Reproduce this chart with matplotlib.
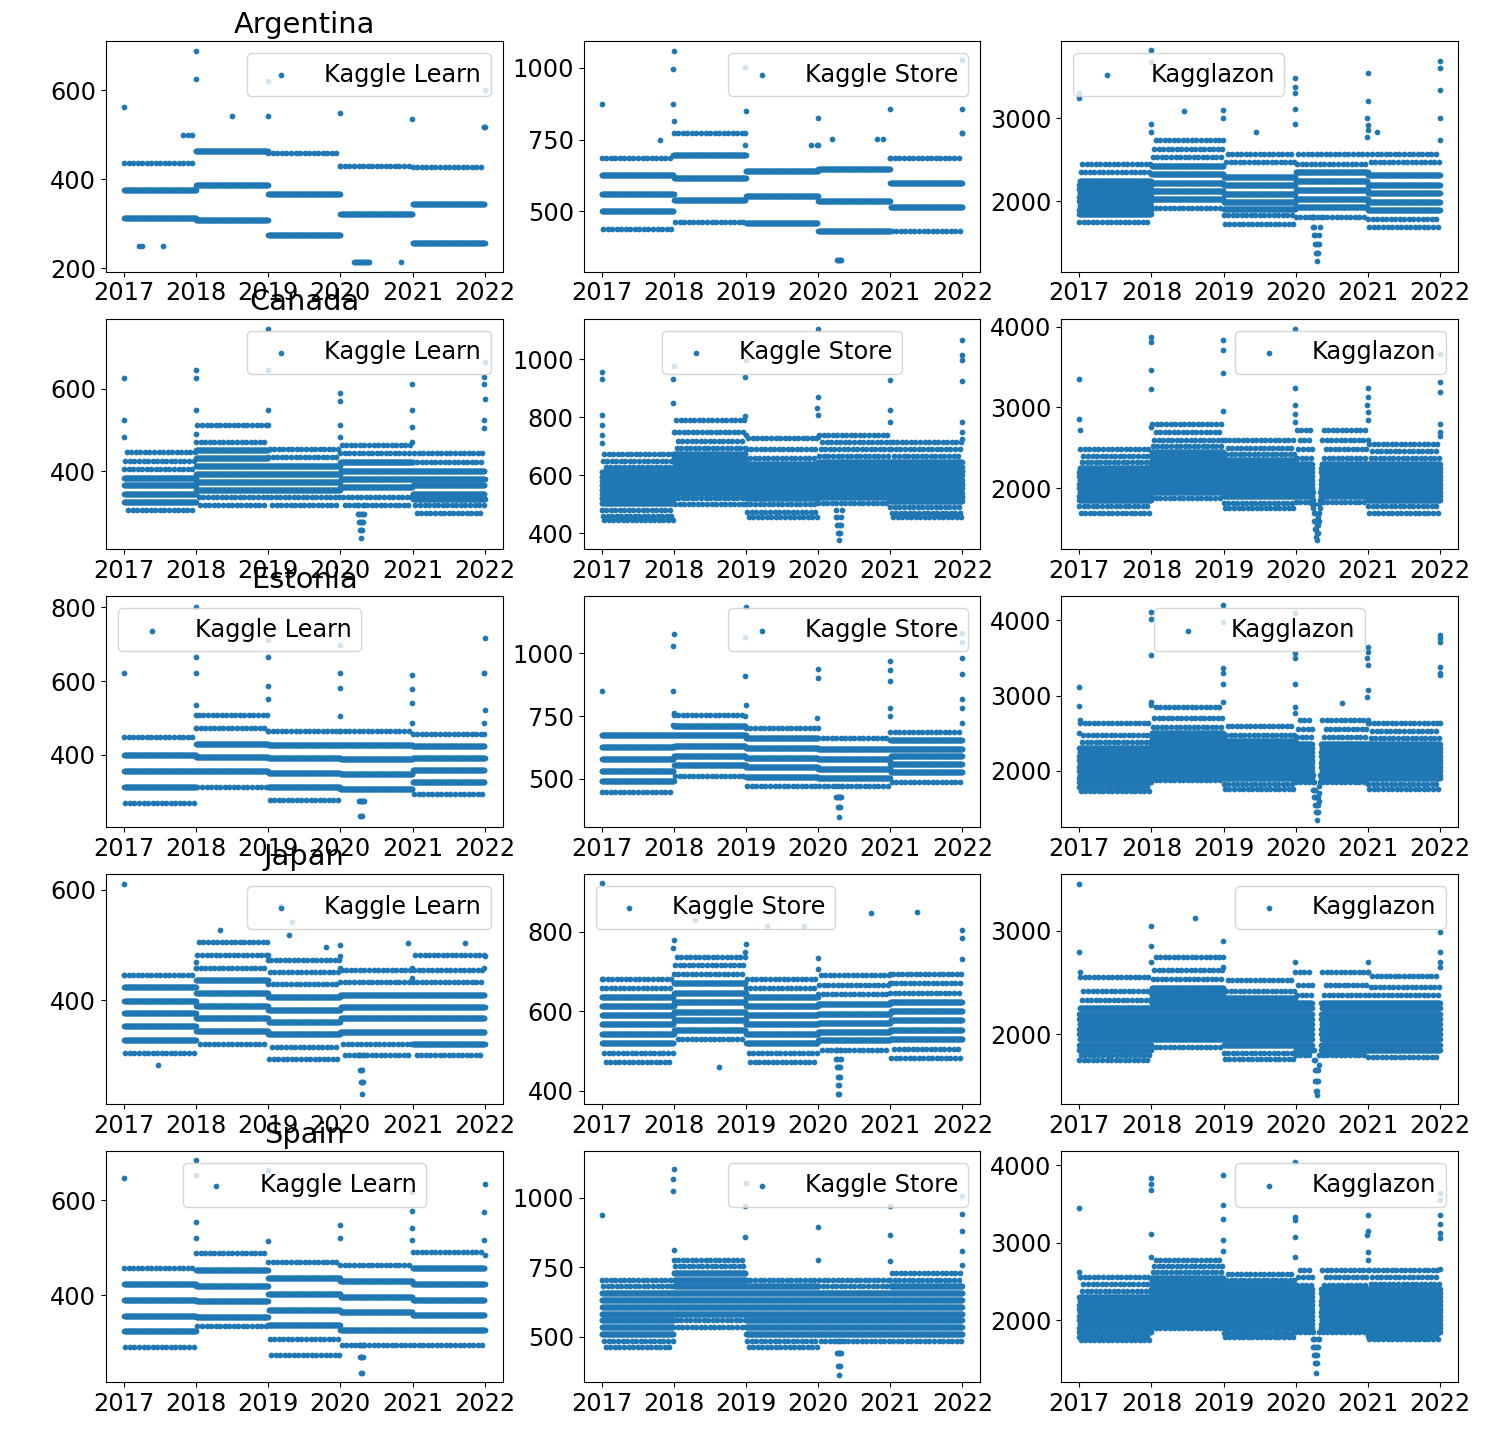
import matplotlib
matplotlib.use("Agg")
import matplotlib.pyplot as plt
import matplotlib.dates as mdates
import pandas as pd

COUNTRIES = ["Argentina", "Canada", "Estonia", "Japan", "Spain"]
STORES = ["Kaggle Learn", "Kaggle Store", "Kagglazon"]
YEARS = [2017, 2018, 2019, 2020, 2021]

# ---- Argentina ----
AR_LEARN_DENSE = [[375, 312], [463, 388, 309], [367, 276], [323], [344, 258]]
AR_LEARN_SPARSE = [[437], [], [458], [430], [428]]
AR_LEARN_SPIKES = [[562], [688, 625, 463], [541, 620, 460], [548, 430], [536], [600, 516, 516, 516]]
AR_LEARN_DIP = [[215], [215], [215], [215], [215], [215], [215], [215], [215], [215], [215], [215], [215], [215], [215], [215]]
AR_LEARN_EXTRA = [("2017-03-20", 250), ("2017-04-02", 250), ("2017-07-15", 250), ("2017-10-28", 500),
                  ("2017-11-20", 500), ("2017-12-10", 500), ("2018-07-01", 541), ("2020-11-01", 215)]

AR_STORE_DENSE = [[626, 562, 500], [695, 617, 540], [641, 552, 459], [649, 536, 430], [600, 515]]
AR_STORE_SPARSE = [[686, 438], [772, 463], [], [], [686, 430]]
AR_STORE_SPIKES = [[874], [1059, 995, 874, 815, 695], [850, 772, 731, 695, 1004], [824, 731, 731], [857, 686], [1028, 857, 772, 772]]
AR_STORE_DIP = [[329], [329], [329], [329], [329]]
AR_STORE_EXTRA = [("2017-10-25", 748), ("2019-11-25", 731), ("2020-03-10", 751), ("2020-10-25", 751), ("2020-11-25", 751)]

AR_KAGGLAZON_DENSE = [[1850, 1900, 1950, 2000, 2050, 2100, 2150, 2200, 2250],
                      [2024, 2124, 2221, 2325, 2425],
                      [1912, 1992, 2093, 2193, 2293],
                      [1932, 2032, 2133, 2245, 2353],
                      [1892, 1992, 2100, 2201, 2313]]
AR_KAGGLAZON_SPARSE = [[1750, 2350, 2450], [1924, 2534, 2635, 2735], [1831, 1731, 2473, 2574],
                       [1811, 2454, 2566], [1791, 1690, 2473, 2574]]
AR_KAGGLAZON_SPIKES = [[3237, 3300], [3819, 3678, 2935, 2835], [3096, 3000, 2735], [3478, 3377, 3298, 3108, 2936],
                       [3546, 3208, 3000, 2916, 2855, 2775], [3687, 3599, 3337, 3000, 2735]]
AR_KAGGLAZON_DIP = [[1811], [1811, 1690], [1690, 1602], [1602, 1490], [1490, 1377], [1377, 1281],
                    [1490, 1377], [1602, 1490], [1690], [1811]]
AR_KAGGLAZON_EXTRA = [("2019-06-15", 2835), ("2018-06-15", 3084), ("2021-02-15", 2835)]

# ---- Canada ----
CA_LEARN_DENSE = [[385, 366, 346, 326], [451, 432, 414, 394, 374, 356], [414, 394, 374, 354],
                  [422, 402, 382, 362], [402, 382, 366, 346, 334]]
CA_LEARN_SPARSE = [[406, 426, 447, 306], [471, 511, 338, 318], [434, 455, 338, 318],
                   [444, 464, 338, 318], [422, 444, 318, 300]]
CA_LEARN_SPIKES = [[625, 525, 484], [645, 625, 547, 491], [744, 645, 549, 511], [589, 569, 511, 484],
                   [610, 547, 507, 471], [663, 627, 610, 575, 523, 505]]
CA_LEARN_DIP = [[318, 298], [298, 278], [298, 278, 258], [278, 258, 238], [298, 278, 258], [298, 278], [318, 298]]

CA_STORE_DENSE = [[505, 520, 535, 550, 565, 580, 595, 610],
                  [540, 555, 570, 585, 600, 615, 630, 645, 660, 675],
                  [520, 535, 550, 565, 580, 595, 610, 625, 640],
                  [525, 540, 555, 570, 585, 600, 615, 630, 645],
                  [510, 525, 540, 555, 570, 585, 600, 615, 630, 645]]
CA_STORE_SPARSE = [[480, 460, 445, 630, 650, 675], [520, 500, 695, 720, 750, 790], [500, 475, 456, 660, 690, 730],
                   [505, 665, 690, 715, 740], [490, 470, 455, 665, 690, 715]]
CA_STORE_SPIKES = [[956, 933, 809, 772, 740, 710], [979, 933, 849, 749], [999, 939, 803, 740],
                   [1106, 870, 831, 807, 732], [928, 824, 784, 715], [1066, 1014, 997, 924, 784, 749, 726]]
CA_STORE_DIP = [[479, 455], [455, 430], [430, 400], [400, 376], [430, 400], [455, 430], [479]]

CA_KAGGLAZON_DENSE = [[1850, 1900, 1950, 2000, 2050, 2100, 2150, 2200, 2250],
                      [1950, 2000, 2050, 2100, 2150, 2200, 2250, 2300, 2350, 2400, 2450],
                      [1900, 1950, 2000, 2050, 2100, 2150, 2200, 2250, 2300, 2350],
                      [1900, 1950, 2000, 2050, 2100, 2150, 2200, 2250, 2300],
                      [1850, 1900, 1950, 2000, 2050, 2100, 2150, 2200, 2250, 2300]]
CA_KAGGLAZON_SPARSE = [[1780, 1700, 2320, 2400, 2480], [1880, 2520, 2600, 2700, 2800], [1820, 1750, 2420, 2500, 2600],
                       [1830, 2380, 2480, 2600, 2720], [1780, 1700, 2380, 2460, 2550]]
CA_KAGGLAZON_SPIKES = [[3354, 2860, 2716], [3868, 3806, 3465, 3222, 2757], [3835, 3712, 3424, 2955],
                       [3971, 3238, 3033, 2922, 2819], [3238, 3124, 3025, 2940, 2840], [3662, 3312, 3189, 2798, 2700, 2650]]
CA_KAGGLAZON_DIP = [[2000, 1900, 1800], [1950, 1850, 1750], [1800, 1700, 1600], [1700, 1600, 1500], [1600, 1500, 1400],
                    [1550, 1450, 1358], [1650, 1550, 1450], [1800, 1700, 1600], [1950, 1850, 1750], [2000, 1900, 1850]]

# ---- Estonia ----
EE_LEARN_DENSE = [[400, 357, 312], [430, 393, 355], [427, 391, 351, 312], [427, 389, 348, 308], [424, 391, 358, 326]]
EE_LEARN_SPARSE = [[447, 270], [474, 314, 508], [465, 278], [465], [456, 294]]
EE_LEARN_SPIKES = [[622], [801, 666, 622, 535, 508, 474], [711, 665, 587, 550, 465], [699, 622, 582, 505, 465],
                   [616, 578, 540, 487], [717, 621, 621, 522, 487, 456]]
EE_LEARN_DIP = [[274], [274, 233], [274, 233], [274, 233], [274], [274]]

EE_STORE_DENSE = [[673, 626, 579, 533, 492], [710, 673, 631, 592, 556], [664, 622, 582, 546, 507],
                  [618, 578, 538, 503], [655, 620, 592, 560, 527]]
EE_STORE_SPARSE = [[447], [754, 513], [704, 472], [664, 472], [688, 489]]
EE_STORE_SPIKES = [[849], [1074, 1028, 849, 762, 714], [1184, 1065, 909, 793, 750], [937, 900, 741, 701],
                   [968, 932, 890, 783, 750], [1078, 1045, 981, 917, 816, 783, 722]]
EE_STORE_DIP = [[472, 430], [430], [430, 390], [430, 390, 350], [430, 390], [430], [472]]

EE_KAGGLAZON_DENSE = [[1850, 1900, 1950, 2000, 2050, 2100, 2150, 2200, 2250, 2300],
                      [1950, 2000, 2050, 2100, 2150, 2200, 2250, 2300, 2350, 2400, 2450, 2500],
                      [1900, 1950, 2000, 2050, 2100, 2150, 2200, 2250, 2300, 2350, 2400],
                      [1900, 1950, 2000, 2050, 2100, 2150, 2200, 2250, 2300, 2350],
                      [1900, 1950, 2000, 2050, 2100, 2150, 2200, 2250, 2300, 2350]]
EE_KAGGLAZON_SPARSE = [[1780, 1730, 2380, 2480, 2630], [1880, 2580, 2700, 2850], [1830, 1760, 2480, 2600],
                       [1850, 2450, 2550, 2680], [1830, 1760, 2430, 2530, 2630]]
EE_KAGGLAZON_SPIKES = [[3117, 2861, 2675, 2500], [4110, 4022, 3536, 2918, 2874], [4199, 3977, 3364, 3300, 3148, 2918],
                       [4089, 3563, 3497, 3148, 2852, 2764], [3646, 3580, 3500, 3404, 3073, 2985, 2632],
                       [3801, 3760, 3713, 3381, 3300, 3272, 2632]]
EE_KAGGLAZON_DIP = [[1950, 1850, 1750], [1850, 1750, 1650], [1750, 1650, 1550], [1650, 1550, 1450],
                    [1550, 1450, 1351], [1650, 1550, 1450], [1800, 1700, 1600], [1950, 1850]]
EE_KAGGLAZON_EXTRA = [("2020-08-20", 2897)]

# ---- Japan ----
JP_LEARN_DENSE = [[423, 399, 376, 353, 327], [436, 413, 389, 368, 344], [406, 383, 360, 338],
                  [410, 387, 367, 342], [410, 387, 367, 342, 321]]
JP_LEARN_SPARSE = [[445, 304], [459, 482, 506, 321], [430, 451, 473, 315, 294], [432, 455, 321, 300],
                   [432, 455, 482, 300]]
JP_LEARN_SPIKES = [[611, 445], [470, 459], [482, 473], [500, 480, 459], [459, 440], [480, 459]]
JP_LEARN_DIP = [[300], [300, 273], [273, 251], [273, 251, 229], [251], [300]]
JP_LEARN_EXTRA = [("2017-06-20", 282), ("2019-03-05", 571), ("2019-05-01", 541), ("2019-04-15", 518),
                  ("2018-05-01", 528), ("2019-10-20", 497), ("2020-12-10", 504), ("2021-09-25", 504)]

JP_STORE_DENSE = [[636, 613, 590, 567, 544, 520], [670, 645, 624, 598, 577, 554], [635, 614, 590, 567, 544, 520],
                  [619, 594, 571, 548, 527], [623, 600, 577, 552, 529]]
JP_STORE_SPARSE = [[659, 682, 495, 472], [693, 716, 737, 531], [658, 682, 495, 472], [643, 667, 690, 502],
                   [646, 670, 694, 506, 482]]
JP_STORE_SPIKES = [[921, 682], [779, 758], [770, 749], [733, 707], [694, 670], [805, 783, 732]]
JP_STORE_DIP = [[502, 481], [502, 481, 460], [460, 435, 414, 391], [460, 435, 414, 391], [481, 460, 435], [502, 481]]
JP_STORE_EXTRA = [("2020-09-25", 846), ("2021-05-15", 850), ("2018-08-20", 460), ("2018-04-20", 829),
                  ("2019-04-20", 814), ("2019-10-20", 814)]

JP_KAGGLAZON_DENSE = [[1850, 1900, 1950, 2000, 2050, 2100, 2150, 2200, 2250],
                      [1950, 2000, 2050, 2100, 2150, 2200, 2250, 2300, 2350, 2400, 2450],
                      [1900, 1950, 2000, 2050, 2100, 2150, 2200, 2250, 2300, 2350],
                      [1850, 1900, 1950, 2000, 2050, 2100, 2150, 2200, 2250, 2300],
                      [1850, 1900, 1950, 2000, 2050, 2100, 2150, 2200, 2250, 2300]]
JP_KAGGLAZON_SPARSE = [[1750, 1800, 2330, 2420, 2550], [1880, 2530, 2620, 2750], [1820, 1760, 2420, 2520],
                       [1800, 2380, 2480, 2600], [1780, 2380, 2460, 2560]]
JP_KAGGLAZON_SPIKES = [[3456, 2800, 2600], [3050, 2850, 2700], [2900, 2750, 2650], [2700, 2600], [2700, 2600],
                       [2990, 2800, 2700, 2650]]
JP_KAGGLAZON_DIP = [[1850, 1750], [1750, 1650, 1550], [1650, 1550, 1450], [1550, 1450, 1408], [1650, 1550], [1800, 1700]]
JP_KAGGLAZON_EXTRA = [("2018-08-10", 3126)]

# ---- Spain ----
ES_LEARN_DENSE = [[423, 390, 356, 324], [453, 419, 387, 354], [436, 402, 368, 337], [430, 396, 364, 326],
                  [457, 423, 390, 358, 326]]
ES_LEARN_SPARSE = [[457, 290], [488, 335], [470, 307, 274], [463, 295], [490, 295]]
ES_LEARN_SPIKES = [[648], [684, 653, 554, 520], [663, 514], [638, 547, 520], [617, 577, 541, 516], [634, 575, 516, 484]]
ES_LEARN_DIP = [[295], [295, 270], [270, 236], [270, 236], [295, 270], [295]]

ES_STORE_DENSE = [[656, 632, 608, 583, 559, 535, 510],
                  [729, 705, 681, 656, 632, 608, 583],
                  [681, 656, 632, 608, 583, 559, 535, 510],
                  [656, 632, 608, 583, 559, 535, 510],
                  [681, 656, 632, 608, 583, 559, 535, 510]]
ES_STORE_SPARSE = [[705, 681, 486, 462], [778, 753, 559, 535], [705, 486, 462], [681, 705, 486], [705, 729, 486]]
ES_STORE_SPIKES = [[937], [1104, 1066, 1024, 812], [1055, 969, 858], [896, 778], [969, 865, 774],
                   [1007, 941, 882, 809, 760]]
ES_STORE_DIP = [[483, 441], [441, 396], [441, 396, 361], [441, 396], [483, 441]]

ES_KAGGLAZON_DENSE = [[1850, 1900, 1950, 2000, 2050, 2100, 2150, 2200, 2250, 2300],
                      [1950, 2000, 2050, 2100, 2150, 2200, 2250, 2300, 2350, 2400, 2450, 2500, 2550],
                      [1900, 1950, 2000, 2050, 2100, 2150, 2200, 2250, 2300, 2350, 2400, 2450],
                      [1900, 1950, 2000, 2050, 2100, 2150, 2200, 2250, 2300, 2350, 2400],
                      [1850, 1900, 1950, 2000, 2050, 2100, 2150, 2200, 2250, 2300, 2350, 2400]]
ES_KAGGLAZON_SPARSE = [[1780, 1740, 2380, 2470, 2560], [1900, 2620, 2700, 2780], [1830, 1780, 2520, 2600],
                       [1850, 2460, 2560, 2650], [1790, 1750, 2470, 2560, 2650]]
ES_KAGGLAZON_SPIKES = [[3454, 2623, 2559], [3832, 3760, 3677, 3118, 2817], [3871, 3484, 3303, 3032, 2890],
                       [4043, 3329, 3290, 3075, 2817], [3355, 3152, 3105, 2881, 2774],
                       [3638, 3548, 3364, 3239, 3127, 3067, 2667]]
ES_KAGGLAZON_DIP = [[1850, 1750, 1650], [1750, 1650, 1550], [1650, 1550, 1450], [1550, 1450, 1312],
                    [1650, 1550, 1450], [1750, 1650], [1850, 1750]]

PANELS = [
    [(AR_LEARN_DENSE, AR_LEARN_SPARSE, AR_LEARN_SPIKES, AR_LEARN_DIP, AR_LEARN_EXTRA),
     (AR_STORE_DENSE, AR_STORE_SPARSE, AR_STORE_SPIKES, AR_STORE_DIP, AR_STORE_EXTRA),
     (AR_KAGGLAZON_DENSE, AR_KAGGLAZON_SPARSE, AR_KAGGLAZON_SPIKES, AR_KAGGLAZON_DIP, AR_KAGGLAZON_EXTRA)],
    [(CA_LEARN_DENSE, CA_LEARN_SPARSE, CA_LEARN_SPIKES, CA_LEARN_DIP, []),
     (CA_STORE_DENSE, CA_STORE_SPARSE, CA_STORE_SPIKES, CA_STORE_DIP, []),
     (CA_KAGGLAZON_DENSE, CA_KAGGLAZON_SPARSE, CA_KAGGLAZON_SPIKES, CA_KAGGLAZON_DIP, [])],
    [(EE_LEARN_DENSE, EE_LEARN_SPARSE, EE_LEARN_SPIKES, EE_LEARN_DIP, []),
     (EE_STORE_DENSE, EE_STORE_SPARSE, EE_STORE_SPIKES, EE_STORE_DIP, []),
     (EE_KAGGLAZON_DENSE, EE_KAGGLAZON_SPARSE, EE_KAGGLAZON_SPIKES, EE_KAGGLAZON_DIP, EE_KAGGLAZON_EXTRA)],
    [(JP_LEARN_DENSE, JP_LEARN_SPARSE, JP_LEARN_SPIKES, JP_LEARN_DIP, JP_LEARN_EXTRA),
     (JP_STORE_DENSE, JP_STORE_SPARSE, JP_STORE_SPIKES, JP_STORE_DIP, JP_STORE_EXTRA),
     (JP_KAGGLAZON_DENSE, JP_KAGGLAZON_SPARSE, JP_KAGGLAZON_SPIKES, JP_KAGGLAZON_DIP, JP_KAGGLAZON_EXTRA)],
    [(ES_LEARN_DENSE, ES_LEARN_SPARSE, ES_LEARN_SPIKES, ES_LEARN_DIP, []),
     (ES_STORE_DENSE, ES_STORE_SPARSE, ES_STORE_SPIKES, ES_STORE_DIP, []),
     (ES_KAGGLAZON_DENSE, ES_KAGGLAZON_SPARSE, ES_KAGGLAZON_SPIKES, ES_KAGGLAZON_DIP, [])],
]

LEGEND_LOC = [["upper right", "upper right", "upper left"],
              ["upper right", "upper center", "upper right"],
              ["upper left", "upper right", "upper center"],
              ["upper right", "upper left", "upper right"],
              ["upper center", "upper right", "upper right"]]

YLIMS = [[(193, 710), (290, 1094), (1157, 3928)],
         [(212, 769), (345, 1141), (1247, 4099)],
         [(205, 830), (310, 1226), (1258, 4318)],
         [(211, 629), (366, 945), (1320, 3553)],
         [(217, 703), (337, 1167), (1200, 4181)]]

YTICKS = [[[200, 400, 600], [500, 750, 1000], [2000, 3000]],
          [[400, 600], [400, 600, 800, 1000], [2000, 3000, 4000]],
          [[400, 600, 800], [500, 750, 1000], [2000, 3000, 4000]],
          [[400, 600], [400, 600, 800], [2000, 3000]],
          [[400, 600], [500, 750, 1000], [2000, 3000, 4000]]]

DIP_CENTER = pd.Timestamp("2020-04-15")


def build_points(dense, sparse, spikes, dip, extra, gap):
    xs, ys = [], []
    for yi, year in enumerate(YEARS):
        days = pd.date_range(f"{year}-01-01", f"{year}-12-31", freq="D")
        if gap and year == 2020:
            days = days[(days < "2020-03-25") | (days > "2020-05-08")]
        for bi, v in enumerate(dense[yi]):
            d = days[bi % 3::3]
            xs.extend(d)
            ys.extend([v] * len(d))
        for bi, v in enumerate(sparse[yi]):
            d = days[(bi * 7) % 23::23]
            xs.extend(d)
            ys.extend([v] * len(d))
    for k, vals in enumerate(spikes):
        for i, v in enumerate(vals):
            if k == 0:
                xs.append(pd.Timestamp("2017-01-01") + pd.Timedelta(days=i % 3))
            else:
                xs.append(pd.Timestamp(f"{2016 + k}-12-31") - pd.Timedelta(days=i % 3))
            ys.append(v)
    n = len(dip)
    for i, vals in enumerate(dip):
        day = DIP_CENTER + pd.Timedelta(days=5 * (i - (n - 1) / 2))
        for v in vals:
            xs.append(day)
            ys.append(v)
    for d, v in extra:
        xs.append(pd.Timestamp(d))
        ys.append(v)
    return xs, ys


fig, axes = plt.subplots(5, 3, figsize=(14.9, 14.32), dpi=100)
fig.subplots_adjust(left=0.0711, right=0.9785, bottom=0.0349, top=0.9714, wspace=0.204, hspace=0.204)

for r, country in enumerate(COUNTRIES):
    for c, store in enumerate(STORES):
        ax = axes[r][c]
        dense, sparse, spikes, dip, extra = PANELS[r][c]
        xs, ys = build_points(dense, sparse, spikes, dip, extra, gap=(c == 2 and r > 0))
        ax.scatter(xs, ys, s=17, color="#1f77b4", linewidths=0, label=store)
        ax.set_ylim(*YLIMS[r][c])
        ax.set_yticks(YTICKS[r][c])
        ax.xaxis.set_major_locator(mdates.YearLocator())
        ax.xaxis.set_major_formatter(mdates.DateFormatter("%Y"))
        ax.tick_params(labelsize=17.3)
        ax.legend(loc=LEGEND_LOC[r][c], fontsize=17.3)
        if c == 0:
            ax.set_title(country, fontsize=20.8)

fig.savefig("out.png", dpi=100)
